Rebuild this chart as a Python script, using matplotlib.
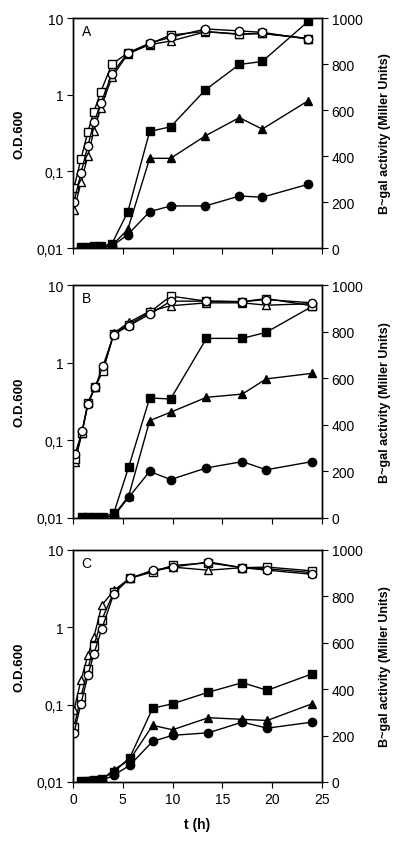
import numpy as np
import matplotlib
matplotlib.use('Agg')
import matplotlib.pyplot as plt
from matplotlib.ticker import FixedLocator, NullLocator

plt.rcParams['font.family'] = ['Liberation Sans', 'DejaVu Sans']

# ---- panel A ----
tA_od = [0.1, 0.8, 1.5, 2.1, 2.8, 3.9, 5.5, 7.7, 9.8, 13.3, 16.7, 19.0, 23.6]
odA_sq = [0.061, 0.145, 0.33, 0.60, 1.10, 2.5, 3.5, 4.6, 6.0, 6.7, 6.1, 6.3, 5.4]
odA_ci = [0.040, 0.095, 0.216, 0.436, 0.77, 1.86, 3.5, 4.7, 5.6, 7.2, 6.8, 6.5, 5.3]
odA_tr = [0.031, 0.072, 0.16, 0.34, 0.68, 1.68, 3.4, 4.5, 5.0, 6.6, 6.2, 6.3, 5.4]
tA_gal = [0.8, 1.5, 2.1, 2.8, 3.9, 5.5, 7.7, 9.8, 13.3, 16.7, 19.0, 23.6]
galA_sq = [5, 5, 8, 8, 18, 157, 507, 527, 688, 798, 811, 985]
galA_tr = [3, 3, 4, 4, 10, 81, 390, 390, 488, 567, 517, 640]
galA_ci = [2, 2, 3, 3, 8, 58, 158, 183, 183, 226, 221, 277]

# ---- panel B ----
tB_od = [0.2, 0.9, 1.5, 2.2, 3.0, 4.1, 5.6, 7.7, 9.8, 13.4, 17.0, 19.4, 24.0]
odB_sq = [0.057, 0.125, 0.306, 0.486, 0.78, 2.36, 3.1, 4.45, 7.2, 6.2, 6.1, 6.7, 5.4]
odB_ci = [0.066, 0.13, 0.29, 0.48, 0.90, 2.3, 3.0, 4.2, 6.2, 6.2, 6.1, 6.5, 5.9]
odB_tr = [0.052, 0.125, 0.30, 0.48, 0.80, 2.4, 3.3, 4.6, 5.4, 5.9, 5.9, 5.5, 5.75]
tB_gal = [0.9, 1.5, 2.2, 3.0, 4.1, 5.6, 7.7, 9.8, 13.4, 17.0, 19.4, 24.0]
galB_sq = [3, 3, 3, 3, 22, 220, 515, 511, 771, 771, 797, 908]
galB_tr = [3, 3, 3, 3, 10, 96, 418, 454, 518, 532, 597, 621]
galB_ci = [2, 2, 2, 2, 8, 89, 200, 165, 215, 242, 207, 242]

# ---- panel C ----
tC_od = [0.1, 0.8, 1.5, 2.1, 2.9, 4.1, 5.7, 8.0, 10.0, 13.6, 17.0, 19.5, 24.0]
odC_sq = [0.051, 0.126, 0.29, 0.58, 1.26, 2.86, 4.3, 5.2, 6.3, 6.8, 5.9, 6.0, 5.37]
odC_ci = [0.043, 0.103, 0.24, 0.457, 0.96, 2.72, 4.3, 5.47, 6.0, 7.0, 5.9, 5.47, 4.85]
odC_tr = [0.085, 0.207, 0.435, 0.75, 1.93, 3.0, 4.3, 5.3, 6.0, 5.47, 5.9, 5.7, 5.1]
tC_gal = [0.8, 1.5, 2.1, 2.9, 4.1, 5.7, 8.0, 10.0, 13.6, 17.0, 19.5, 24.0]
galC_sq = [3, 5, 7, 14, 43, 105, 318, 337, 387, 428, 395, 466]
galC_tr = [3, 4, 6, 10, 53, 96, 244, 225, 277, 270, 265, 337]
galC_ci = [2, 3, 4, 6, 29, 72, 175, 201, 212, 258, 232, 258]

panels = [
    ('A', tA_od, odA_sq, odA_ci, odA_tr, tA_gal, galA_sq, galA_tr, galA_ci),
    ('B', tB_od, odB_sq, odB_ci, odB_tr, tB_gal, galB_sq, galB_tr, galB_ci),
    ('C', tC_od, odC_sq, odC_ci, odC_tr, tC_gal, galC_sq, galC_tr, galC_ci),
]

# axes boxes in figure fractions (left, bottom, width, height)
boxes = [
    [0.1825, 0.7053, 0.6225, 0.2722],
    [0.1825, 0.3858, 0.6225, 0.2757],
    [0.1825, 0.0734, 0.6225, 0.2746],
]

fig = plt.figure(figsize=(4.0, 8.45), dpi=100)

ms = 6
for i, (lab, t_od, osq, oci, otr, t_gal, gsq, gtr, gci) in enumerate(panels):
    ax = fig.add_axes(boxes[i])
    ax2 = ax.twinx()

    # B-gal activity on the right axis (filled markers)
    ax2.plot(t_gal, gsq, color='black', lw=1, marker='s', ms=ms, mfc='black', mec='black')
    ax2.plot(t_gal, gtr, color='black', lw=1, marker='^', ms=ms, mfc='black', mec='black')
    ax2.plot(t_gal, gci, color='black', lw=1, marker='o', ms=ms, mfc='black', mec='black')
    ax2.set_ylim(0, 1000)
    ax2.set_yticks([0, 200, 400, 600, 800, 1000])
    ax2.tick_params(axis='y', direction='out', length=4, labelsize=10, pad=3)
    ax2.set_ylabel('B~gal activity (Miller Units)', fontsize=9, fontweight='bold', labelpad=12)

    # optical density on the left (open markers)
    ax.set_zorder(ax2.get_zorder() + 1)
    ax.patch.set_visible(False)
    ax.plot(t_od, otr, color='black', lw=1, marker='^', ms=ms, mfc='white', mec='black')
    ax.plot(t_od, osq, color='black', lw=1, marker='s', ms=ms, mfc='white', mec='black')
    ax.plot(t_od, oci, color='black', lw=1, marker='o', ms=ms, mfc='white', mec='black')
    ax.set_yscale('log')
    ax.set_ylim(0.01, 10)
    ax.yaxis.set_major_locator(FixedLocator([0.01, 0.1, 1, 10]))
    ax.yaxis.set_minor_locator(NullLocator())
    ax.set_yticklabels(['0,01', '0,1', '1', '10'])
    ax.set_xlim(0, 25)
    ax.set_xticks([0, 5, 10, 15, 20, 25])
    ax.tick_params(axis='both', direction='out', length=4, labelsize=10, pad=3)
    ax.set_ylabel('O.D.600', fontsize=9.5, fontweight='bold', labelpad=8)
    ax.text(0.035, 0.975, lab, transform=ax.transAxes, fontsize=10, va='top', ha='left')

    for a in (ax, ax2):
        for s in a.spines.values():
            s.set_linewidth(1)

    if i < 2:
        ax.set_xticklabels([])
    else:
        ax.set_xlabel('t (h)', fontsize=10, fontweight='bold', labelpad=8)

fig.savefig('out.png', dpi=100)
